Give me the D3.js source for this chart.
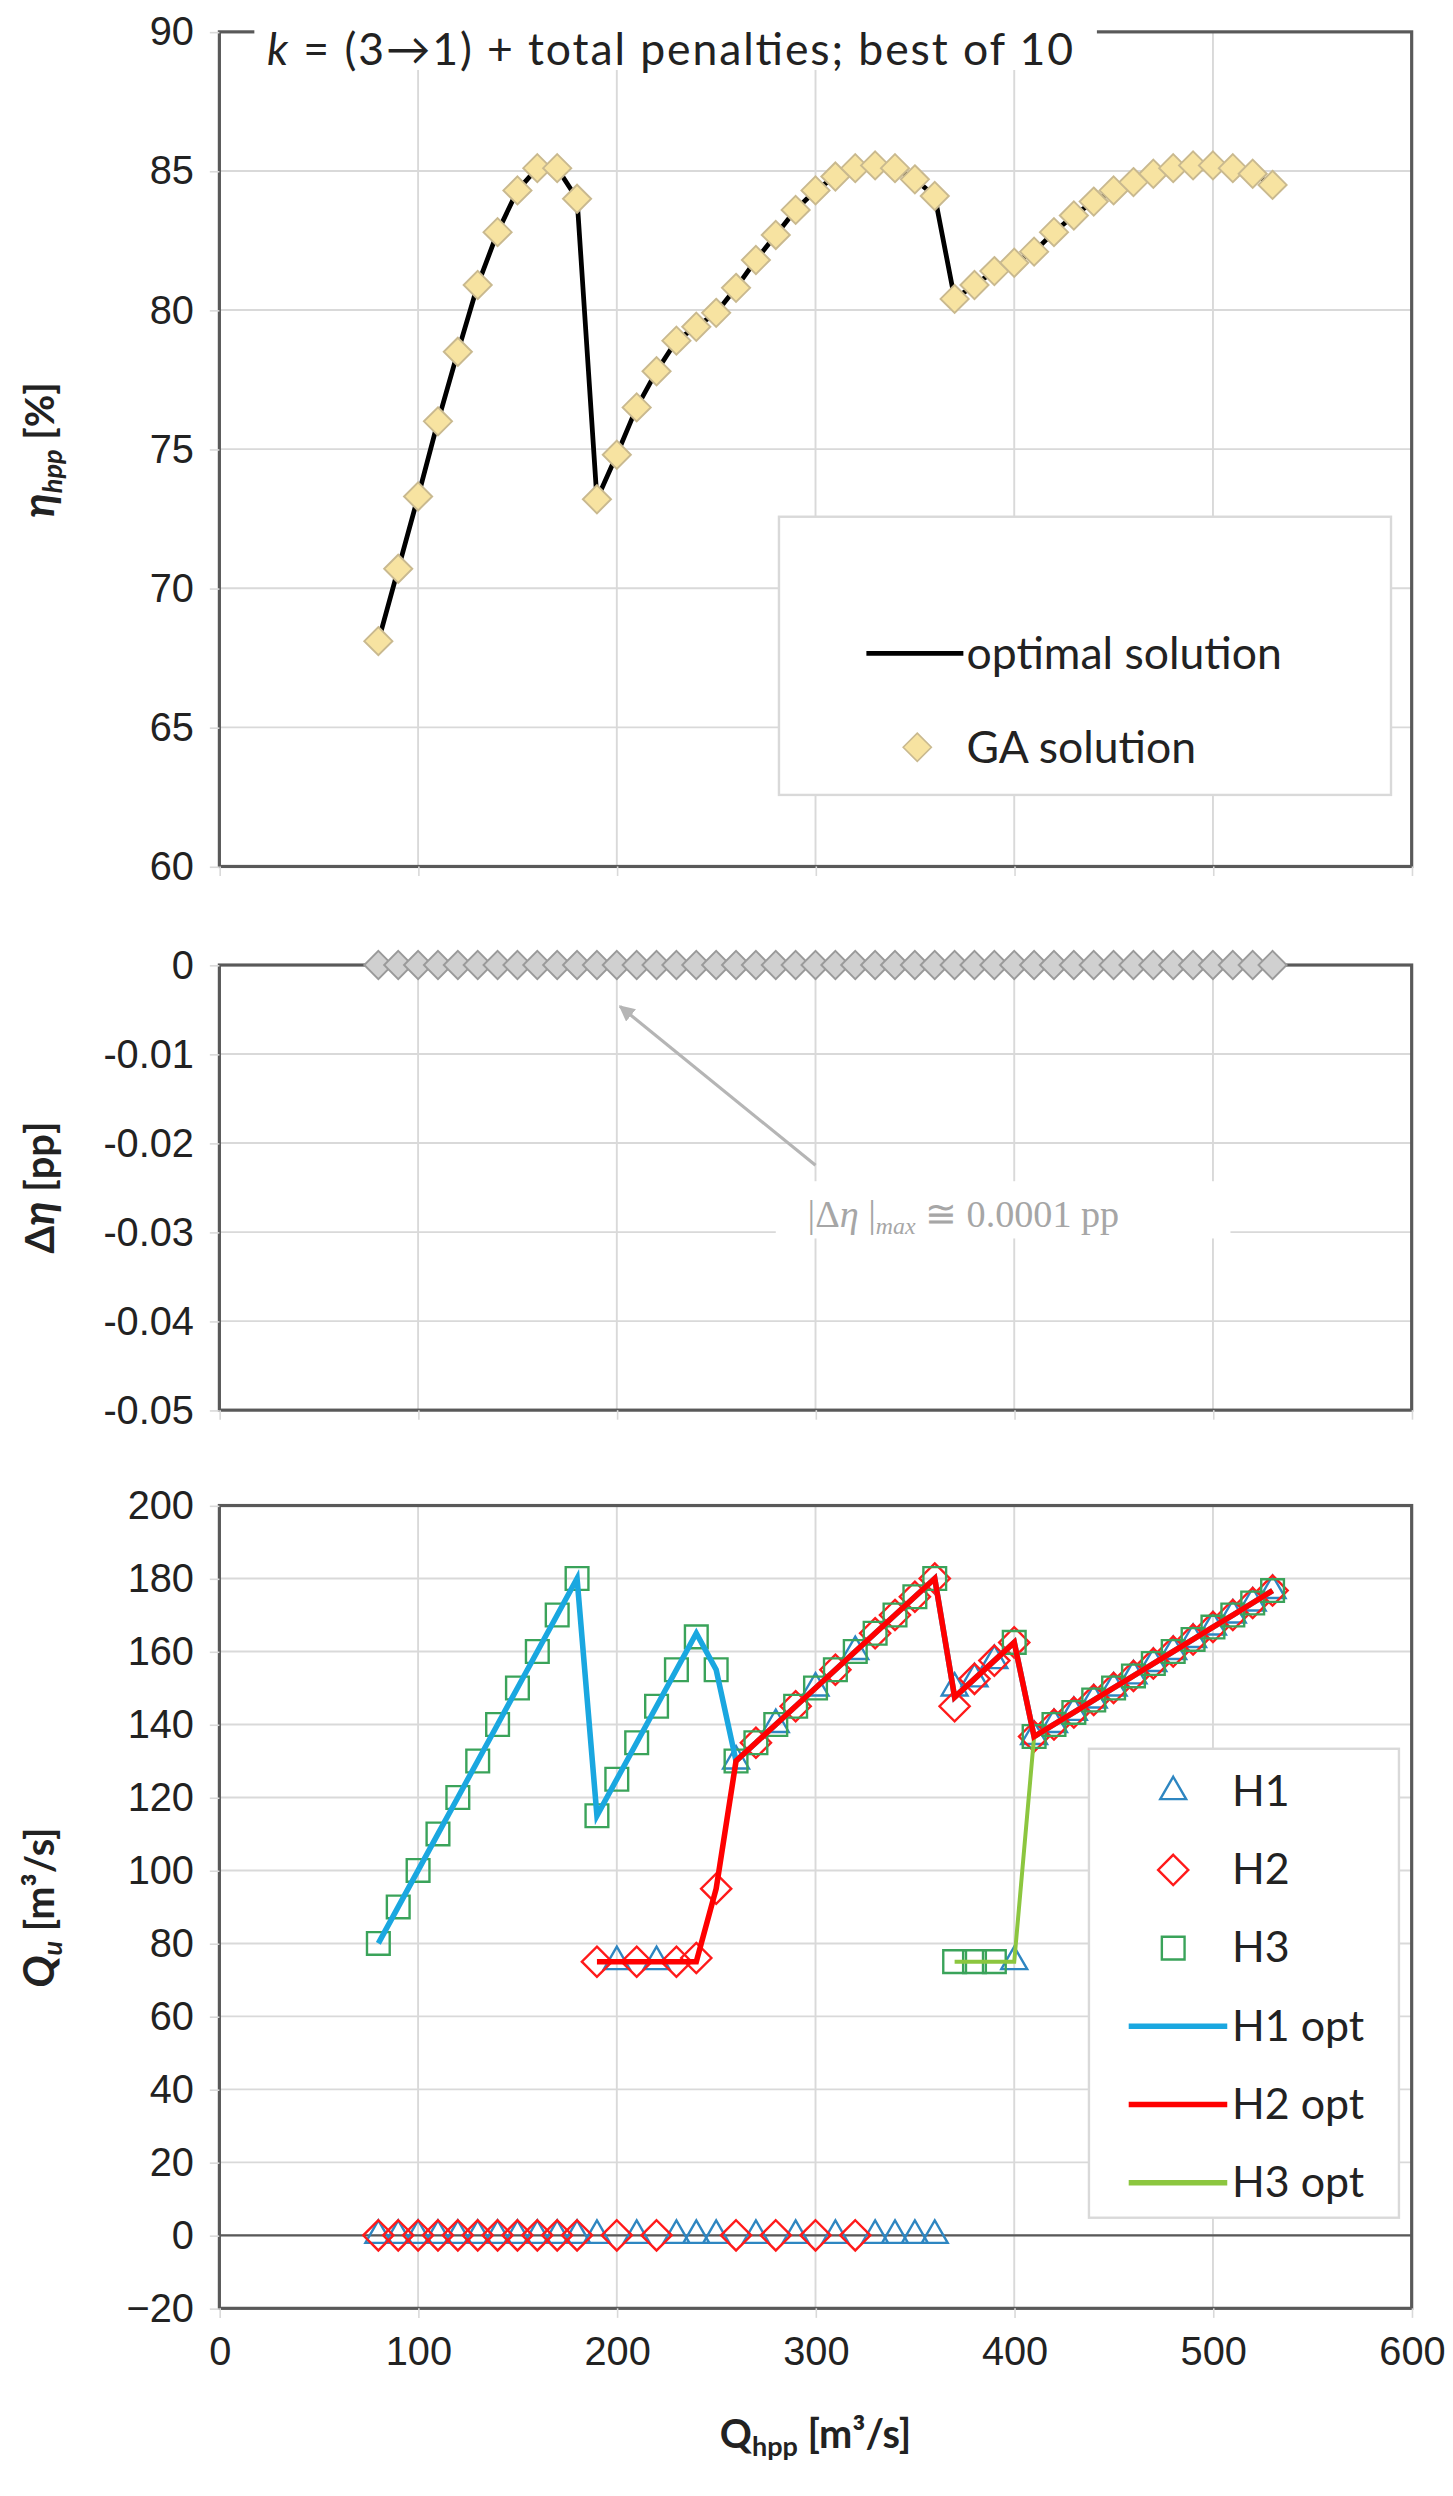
<!DOCTYPE html>
<html lang="en">
<head>
<meta charset="UTF-8">
<title>GA vs optimal</title>
<script src="https://d3js.org/d3.v7.min.js"></script>
<style>
  body { margin: 0; background: #fff; }
  svg { display: block; font-family: Lato, "Open Sans", sans-serif; }
</style>
</head>
<body>
<svg id="chart" width="1453" height="2496" viewBox="0 0 914 1570"></svg>
<script>
// flow through the plant, m3/s
var qHpp = [80,90,100,110,120,130,140,150,160,170,180,190,200,210,220,230,240,250,260,270,280,290,300,
  310,320,330,340,350,360,370,380,390,400,410,420,430,440,450,460,470,480,490,500,510,520,530];

// plant efficiency [%]
var etaOpt = [68.1,70.7,73.3,76.0,78.5,80.9,82.8,84.3,85.1,85.1,84.0,73.2,74.8,76.5,77.8,78.9,79.4,79.9,80.8,
  81.8,82.7,83.6,84.3,84.8,85.1,85.2,85.1,84.7,84.1,80.4,80.9,81.4,81.7,82.1,82.8,83.4,83.9,84.3,84.6,84.9,
  85.1,85.2,85.2,85.1,84.9,84.5];
var etaGA = etaOpt.slice();
var dEta = qHpp.map(function() { return 0; });

// unit flows from GA (markers)
var gaH1 = [0,0,0,0,0,0,0,0,0,0,0, 0,75,0,75,0,0,0, 130,0,140,0,150,0,160,0,0,0,0,
  150,152.5,157.5,75, 136.7,140,143.3,146.7,150,153.3,156.7,160,163.3,166.7,170,173.3,176.7];
var gaH2 = [0,0,0,0,0,0,0,0,0,0,0, 75,0,75,0,75,76,95, 0,135,0,145,0,155,0,165,170,175,180,
  145,152.5,157.5,162.5, 136.7,140,143.3,146.7,150,153.3,156.7,160,163.3,166.7,170,173.3,176.7];
var gaH3 = [80,90,100,110,120,130,140,150,160,170,180, 115,125,135,145,155,164,155, 130,135,140,145,150,155,160,165,170,175,180,
  75,75,75,162.5, 136.7,140,143.3,146.7,150,153.3,156.7,160,163.3,166.7,170,173.3,176.7];

// optimal unit flows (lines), null = unit off
var optH1 = [80,90,100,110,120,130,140,150,160,170,180, 115,125,135,145,155,165,155, 130,135,140,145,150,155,160,165,170,175,180,
  147.5,152.5,157.5,162.5, 136.7,140,143.3,146.7,150,153.3,156.7,160,163.3,166.7,170,173.3,176.7];
var optH2 = [null,null,null,null,null,null,null,null,null,null,null, 75,75,75,75,75,75,95, 130,135,140,145,150,155,160,165,170,175,180,
  147.5,152.5,157.5,162.5, 136.7,140,143.3,146.7,150,153.3,156.7,160,163.3,166.7,170,173.3,176.7];
var optH3 = [null,null,null,null,null,null,null,null,null,null,null, null,null,null,null,null,null,null, null,null,null,null,null,null,null,null,null,null,null,
  75,75,75,75, 136.7,140,143.3,146.7,150,153.3,156.7,160,163.3,166.7,170,173.3,176.7];

var xTicks = [0,100,200,300,400,500,600];
var etaTicks = [60,65,70,75,80,85,90];
var dTicks = [0,-0.01,-0.02,-0.03,-0.04,-0.05];
var qTicks = [-20,0,20,40,60,80,100,120,140,160,180,200];

var svg = d3.select('#chart');
var x = d3.scaleLinear().domain([0, 600]).range([138, 888]);
var yEta = d3.scaleLinear().domain([60, 90]).range([545, 20]);
var yD = d3.scaleLinear().domain([-0.05, 0]).range([887, 607]);
var yQ = d3.scaleLinear().domain([-20, 200]).range([1452, 947]);

var gridCol = '#d9d9d9', axCol = '#595959', FS = 25;

function panel(y, ticks, fmt, showX) {
  var g = svg.append('g');
  var r = y.range();
  g.selectAll('.vg').data(xTicks.slice(1, -1)).join('line')
    .attr('x1', d => x(d)).attr('x2', d => x(d)).attr('y1', r[1]).attr('y2', r[0])
    .attr('stroke', gridCol).attr('stroke-width', 1.2);
  g.selectAll('.hg').data(ticks).join('line')
    .attr('x1', x(0)).attr('x2', x(600)).attr('y1', d => y(d)).attr('y2', d => y(d))
    .attr('stroke', gridCol).attr('stroke-width', 1.2);
  g.append('rect').attr('x', x(0)).attr('y', r[1]).attr('width', x(600) - x(0)).attr('height', r[0] - r[1])
    .attr('fill', 'none').attr('stroke', axCol).attr('stroke-width', 2);
  var ya = g.append('g').attr('transform', `translate(${x(0)},0)`)
    .call(d3.axisLeft(y).tickValues(ticks).tickFormat(fmt).tickSize(6).tickPadding(10));
  ya.select('.domain').remove();
  ya.selectAll('line').attr('stroke', gridCol);
  ya.selectAll('text').attr('font-size', FS).attr('fill', '#222');
  var xa = g.append('g').attr('transform', `translate(0,${r[0]})`)
    .call(d3.axisBottom(x).tickValues(xTicks).tickSize(6).tickPadding(12).tickFormat(showX ? d3.format('d') : ''));
  xa.select('.domain').remove();
  xa.selectAll('line').attr('stroke', gridCol);
  xa.selectAll('text').attr('font-size', FS).attr('fill', '#222');
  return g;
}

// ---- top panel
var g1 = panel(yEta, etaTicks, d3.format('d'), false);
g1.append('path').datum(qHpp.map((q, i) => [q, etaOpt[i]]))
  .attr('d', d3.line().x(d => x(d[0])).y(d => yEta(d[1])))
  .attr('fill', 'none').attr('stroke', '#000').attr('stroke-width', 3);
var diamond = d3.symbol().type(d3.symbolDiamond2).size(200);
g1.selectAll('.ga').data(qHpp).join('path')
  .attr('transform', (q, i) => `translate(${x(q)},${yEta(etaGA[i])})`)
  .attr('d', diamond).attr('fill', '#f7e3a1').attr('stroke', '#c9b98f').attr('stroke-width', 1.2);
// title over the frame
svg.append('rect').attr('x', 160).attr('y', 8).attr('width', 530).attr('height', 36).attr('fill', '#fff');
var t = svg.append('text').attr('x', 168).attr('y', 41).attr('font-size', 28).attr('fill', '#222')
  .attr('textLength', 507).attr('lengthAdjust', 'spacing');
t.append('tspan').attr('font-style', 'italic').text('k');
t.append('tspan').text(' = (3\u21921) + total penalties; best of 10');
// legend top
var l1 = svg.append('g');
l1.append('rect').attr('x', 490).attr('y', 325).attr('width', 385).attr('height', 175)
  .attr('fill', '#fff').attr('stroke', gridCol).attr('stroke-width', 1.5);
l1.append('line').attr('x1', 545).attr('x2', 606).attr('y1', 411).attr('y2', 411).attr('stroke', '#000').attr('stroke-width', 3);
l1.append('text').attr('x', 608).attr('y', 421).attr('font-size', 28).attr('fill', '#222').text('optimal solution');
l1.append('path').attr('transform', 'translate(577,470)').attr('d', diamond)
  .attr('fill', '#f7e3a1').attr('stroke', '#c9b98f');
l1.append('text').attr('x', 608).attr('y', 480).attr('font-size', 28).attr('fill', '#222').text('GA solution');

// ---- middle panel
var g2 = panel(yD, dTicks, d => d === 0 ? '0' : d.toFixed(2), false);
g2.selectAll('.dd').data(qHpp).join('path')
  .attr('transform', (q, i) => `translate(${x(q)},${yD(dEta[i])})`)
  .attr('d', diamond).attr('fill', '#d0d0d0').attr('stroke', '#9a9a9a').attr('stroke-width', 1.2);
svg.append('defs').append('marker').attr('id', 'ah').attr('viewBox', '0 0 10 10')
  .attr('refX', 9).attr('refY', 5).attr('markerWidth', 5).attr('markerHeight', 5).attr('orient', 'auto')
  .append('path').attr('d', 'M0,0L10,5L0,10z').attr('fill', '#b5b5b5');
svg.append('line').attr('x1', 513).attr('y1', 733).attr('x2', 390).attr('y2', 633)
  .attr('stroke', '#b5b5b5').attr('stroke-width', 2).attr('marker-end', 'url(#ah)');
svg.append('rect').attr('x', 488).attr('y', 743).attr('width', 286).attr('height', 36).attr('fill', '#fff');
var ann = svg.append('text').attr('x', 508).attr('y', 772).attr('font-size', 24)
  .attr('font-family', '"Liberation Serif", serif').attr('fill', '#a6a6a6');
ann.append('tspan').text('|\u0394');
ann.append('tspan').attr('font-style', 'italic').text('\u03b7 ');
ann.append('tspan').text('|');
ann.append('tspan').attr('font-style', 'italic').attr('font-size', 15).attr('dy', 4).text('max');
ann.append('tspan').attr('dy', -4).text(' \u2245 0.0001 pp');

// ---- bottom panel
var g3 = panel(yQ, qTicks, d3.format('d'), true);
g3.append('line').attr('x1', x(0)).attr('x2', x(600)).attr('y1', yQ(0)).attr('y2', yQ(0))
  .attr('stroke', axCol).attr('stroke-width', 1.5);
var tri = d3.symbol().type(d3.symbolTriangle2).size(190);
var dia = d3.symbol().type(d3.symbolDiamond2).size(230);
var sq = d3.symbol().type(d3.symbolSquare2).size(260);
var c1 = '#2e86c1', c2 = '#ff1a1a', c3 = '#3aa35a';
function markers(vals, sym, col) {
  g3.append('g').selectAll('path').data(qHpp).join('path')
    .attr('transform', (q, i) => `translate(${x(q)},${yQ(vals[i])})`)
    .attr('d', sym).attr('fill', 'none').attr('stroke', col).attr('stroke-width', 1.5);
}
markers(gaH1, tri, c1);
markers(gaH2, dia, c2);
markers(gaH3, sq, c3);
function optLine(vals, col, w) {
  g3.append('path').datum(qHpp.map((q, i) => [q, vals[i]]))
    .attr('d', d3.line().defined(d => d[1] != null).x(d => x(d[0])).y(d => yQ(d[1])))
    .attr('fill', 'none').attr('stroke', col).attr('stroke-width', w);
}
optLine(optH1, '#1aa7e0', 3.5);
optLine(optH3, '#8cc63f', 2.5);
optLine(optH2, '#ff0000', 3.5);

// legend bottom
var l3 = svg.append('g');
l3.append('rect').attr('x', 685).attr('y', 1100).attr('width', 195).attr('height', 295)
  .attr('fill', '#fff').attr('stroke', gridCol).attr('stroke-width', 1.5);
var legItems = [
  {label: 'H1', sym: tri, col: c1}, {label: 'H2', sym: dia, col: c2}, {label: 'H3', sym: sq, col: c3},
  {label: 'H1 opt', line: '#1aa7e0'}, {label: 'H2 opt', line: '#ff0000'}, {label: 'H3 opt', line: '#8cc63f'}
];
legItems.forEach(function(d, i) {
  var yy = 1127 + i * 49.2;
  if (d.sym) {
    l3.append('path').attr('transform', `translate(738,${yy})`).attr('d', d.sym)
      .attr('fill', 'none').attr('stroke', d.col).attr('stroke-width', 1.5);
  } else {
    l3.append('line').attr('x1', 710).attr('x2', 772).attr('y1', yy).attr('y2', yy)
      .attr('stroke', d.line).attr('stroke-width', 3.5);
  }
  l3.append('text').attr('x', 775).attr('y', yy + 9).attr('font-size', 27).attr('fill', '#222').text(d.label);
});

// axis titles
function yTitle(cy, build) {
  var tt = svg.append('text').attr('transform', `translate(34,${cy}) rotate(-90)`)
    .attr('text-anchor', 'middle').attr('font-size', 25).attr('font-weight', 'bold').attr('fill', '#222');
  build(tt);
}
yTitle(283, function(tt) {
  tt.append('tspan').attr('font-style', 'italic').attr('font-size', 28).text('\u03b7');
  tt.append('tspan').attr('font-style', 'italic').attr('font-size', 17).attr('dy', 5).text('hpp');
  tt.append('tspan').attr('dy', -5).text(' [%]');
});
yTitle(747, function(tt) {
  tt.append('tspan').text('\u0394');
  tt.append('tspan').attr('font-style', 'italic').attr('font-size', 28).text('\u03b7');
  tt.append('tspan').text(' [pp]');
});
yTitle(1200, function(tt) {
  tt.append('tspan').attr('font-style', 'italic').attr('font-size', 27).text('Q');
  tt.append('tspan').attr('font-style', 'italic').attr('font-size', 17).attr('dy', 5).text('u');
  tt.append('tspan').attr('dy', -5).text(' [m\u00b3/s]');
});
var xt = svg.append('text').attr('x', 513).attr('y', 1540).attr('text-anchor', 'middle')
  .attr('font-size', 25).attr('font-weight', 'bold').attr('fill', '#222');
xt.append('tspan').text('Q');
xt.append('tspan').attr('font-size', 17).attr('dy', 5).text('hpp');
xt.append('tspan').attr('dy', -5).text(' [m\u00b3/s]');
</script>
</body>
</html>
